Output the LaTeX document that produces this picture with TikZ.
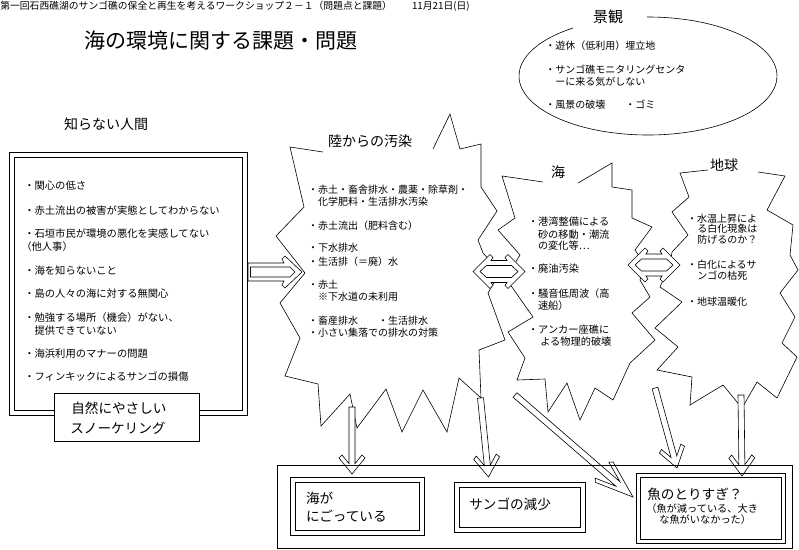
\documentclass[tikz,border=0pt]{standalone}
\usepackage{fontspec}
\setmainfont{Noto Sans CJK JP}
\usetikzlibrary{calc}
\newcommand\chevarrow[5]{%
  \path let \p1=($(#2)-(#1)$) in \pgfextra{%
    \pgfmathsetmacro\CAtmpA{atan2(\y1,\x1)}%
    \pgfmathsetmacro\CAtmpL{veclen(\x1,\y1)}%
    \global\let\CAang\CAtmpA \global\let\CAlen\CAtmpL};%
  \pgfmathsetmacro\CAi{-#3-3+(#4-3-#5)/#4*#3}%
  \draw[fill=white, shift={(#2)}, rotate=\CAang]
    (0,0) -- (-#3,#4) -- ({-#3-3},{#4-3}) -- (\CAi,#5) -- (-\CAlen,#5)
    -- (-\CAlen,-#5) -- (\CAi,-#5) -- ({-#3-3},{-#4+3}) -- (-#3,-#4) -- cycle;
}
\tikzset{
  tx/.style={anchor=base west, inner sep=0pt, font=\fontsize{#1}{#1}\selectfont, yshift={-0.38*#1}},
  tc/.style={anchor=base, inner sep=0pt, font=\fontsize{#1}{#1}\selectfont, yshift={-0.38*#1}},
  box/.style={draw, inner sep=0pt, anchor=north west},
  burst/.style={draw, line join=miter},
  blk/.style={draw, fill=white},
}
\begin{document}
\begin{tikzpicture}[x=1pt,y=1pt,line width=0.6pt]
\fill[white] (0,0) rectangle (799,-549);
\useasboundingbox (0,0) rectangle (799,-549);

% header and title
\node[tx=9.8] (hdr) at (0,-6) {第一回石西礁湖のサンゴ礁の保全と再生を考えるワークショップ２－１（問題点と課題）\hspace{20pt}11月21日(日)};
\node[tc=21] (title) at (221,-41) {海の環境に関する課題・問題};

% landscape ellipse
\coordinate (kc) at (648,-76);
\draw (kc) ++(125.5:129pt and 59pt) arc[start angle=125.5, end angle=450.4, x radius=129pt, y radius=59pt];
\node[tc=15] (kt) at (608,-17) {景観};
\node[tx=10] (k1) at (545,-46) {・遊休（低利用）埋立地};
\node[tx=10] (k2) at (545,-69.5) {・サンゴ礁モニタリングセンタ};
\node[tx=10] (k2b) at (555,-81.5) {ーに来る気がしない};
\node[tx=10] (k3) at (545,-105) {・風景の破壊　　・ゴミ};

% person box
\node[tc=14] (pt) at (106,-124) {知らない人間};
\node[box, minimum width=238pt, minimum height=263pt] (pb) at (9,-152) {};
\draw ([shift={(5,-5)}]pb.north west) rectangle ([shift={(-5,5)}]pb.south east);
\node[tx=10.3] (p1) at (24,-185.5) {・関心の低さ};
\node[tx=10.3] (p2) at (24,-210.5) {・赤土流出の被害が実態としてわからない};
\node[tx=10.3] (p3) at (24,-234) {・石垣市民が環境の悪化を実感してない};
\node[tx=10.3] (p3b) at (21,-247) {（他人事）};
\node[tx=10.3] (p4) at (24,-270.5) {・海を知らないこと};
\node[tx=10.3] (p5) at (24,-294) {・島の人々の海に対する無関心};
\node[tx=10.3] (p6) at (24,-318) {・勉強する場所（機会）がない、};
\node[tx=10.3] (p6b) at (34.3,-330.5) {提供できていない};
\node[tx=10.3] (p7) at (24,-354) {・海浜利用のマナーの問題};
\node[tx=10.3] (p8) at (24,-377) {・フィンキックによるサンゴの損傷};
\node[box, fill=white, minimum width=145pt, minimum height=48pt] (sn) at (54,-393) {};
\node[tx=13.6] (sn1) at (71,-408) {自然にやさしい};
\node[tx=13.6] (sn2) at (70,-428) {スノーケリング};

% bursts
\draw[burst] (433,-149) -- (450,-114) -- (460,-149) -- (481,-144) -- (481,-187) -- (497,-211) -- (478,-240) -- (483,-253) -- (500,-272) -- (488,-293) -- (505,-340) -- (479,-350) -- (481,-398) -- (459,-378) -- (447,-432) -- (423,-390) -- (402,-432) -- (386,-389) -- (357,-428) -- (350,-394) -- (321,-426) -- (318,-384) -- (285,-376) -- (300,-338) -- (280,-303) -- (305,-273) -- (276,-236) -- (304,-207) -- (290,-147) -- (323,-152);
\node[tc=14] (lt) at (370,-141) {陸からの汚染};

\draw[burst] (578,-183) -- (612,-163) -- (612,-187) -- (632,-190) -- (632,-218) -- (652,-227) -- (635,-250) -- (645,-265) -- (640,-280) -- (650,-297) -- (632,-313) -- (655,-340) -- (630,-363) -- (613,-400) -- (595,-388) -- (580,-420) -- (567,-383) -- (548,-412) -- (545,-379) -- (517,-380) -- (525,-358) -- (508,-332) -- (533,-317) -- (507,-280) -- (512,-268) -- (520,-255) -- (498,-230) -- (515,-218) -- (502,-176) -- (543,-182);
\node[tc=14] (st) at (558,-172) {海};

\draw[burst] (758,-172) -- (785,-176) -- (767,-210) -- (793,-225) -- (790,-255) -- (798,-270) -- (780,-293) -- (795,-317) -- (782,-343) -- (797,-357) -- (777,-398) -- (757,-382) -- (742,-408) -- (723,-385) -- (690,-405) -- (692,-377) -- (657,-370) -- (678,-347) -- (655,-328) -- (682,-302) -- (660,-287) -- (670,-265) -- (672,-252) -- (688,-235) -- (672,-212) -- (689,-197) -- (680,-173) -- (708,-170);
\node[tc=14] (et) at (724,-165) {地球};

% burst texts
\node[tx=10] (l1) at (307.7,-190) {・赤土・畜舎排水・農薬・除草剤・};
\node[tx=10] (l1b) at (317.7,-201.5) {化学肥料・生活排水汚染};
\node[tx=10] (l2) at (307.7,-226) {・赤土流出（肥料含む）};
\node[tx=10] (l3) at (307.7,-248) {・下水排水};
\node[tx=10] (l4) at (307.7,-262) {・生活排（＝廃）水};
\node[tx=10] (l5) at (307.7,-285) {・赤土};
\node[tx=10] (l5b) at (317.7,-296.5) {※下水道の未利用};
\node[tx=10] (l6) at (307.7,-321) {・畜産排水　　・生活排水};
\node[tx=10] (l7) at (307.7,-332.5) {・小さい集落での排水の対策};

\node[tx=10.2] (s1) at (527.7,-222) {・港湾整備による};
\node[tx=10.2] (s1b) at (537.7,-235) {砂の移動・潮流};
\node[tx=10.2] (s1c) at (537.7,-246) {の変化等…};
\node[tx=10.2] (s2) at (527.7,-269) {・廃油汚染};
\node[tx=10.2] (s3) at (527.7,-294) {・騒音低周波（高};
\node[tx=10.2] (s3b) at (537.7,-306) {速船）};
\node[tx=10.2] (s4) at (527.7,-330) {・アンカー座礁に};
\node[tx=10.2] (s4b) at (540,-342) {よる物理的破壊};

\node[tx=10] (e1) at (686.7,-218.5) {・水温上昇によ};
\node[tx=10] (e1b) at (697,-229) {る白化現象は};
\node[tx=10] (e1c) at (697,-240) {防げるのか？};
\node[tx=10] (e2) at (686.7,-265) {・白化によるサ};
\node[tx=10] (e2b) at (697,-276) {ンゴの枯死};
\node[tx=10] (e3) at (686.7,-302) {・地球温暖化};

% horizontal block arrows
\coordinate (la0) at (248,-272);
\coordinate (la1) at (302,-272);
\begin{scope}[shift={(la1)}]
\draw[blk] (0,0) -- (-17,16) -- (-20,13) -- (-18,9) -- (-54,9) -- (-54,-9) -- (-18,-9) -- (-20,-13) -- (-17,-16) -- cycle;
\draw (-7,0) -- (-12,5) -- (-51.5,5) -- (-51.5,-5) -- (-12,-5) -- cycle;
\end{scope}
\coordinate (lsm) at (499,-271.5);
\coordinate (sem) at (654,-265);
\foreach \c in {lsm,sem}{
\begin{scope}[shift={(\c)}]
\draw[blk] (-26,0) -- (-9,17) -- (-6,14) -- (-8,11) -- (8,11) -- (6,14) -- (9,17) -- (26,0) -- (9,-17) -- (6,-14) -- (8,-11) -- (-8,-11) -- (-6,-14) -- (-9,-17) -- cycle;
\draw (-19,0) -- (-12.5,6) -- (12.5,6) -- (19,0) -- (12.5,-6) -- (-12.5,-6) -- cycle;
\end{scope}}

% down arrows
\coordinate (a1s) at (352,-407); \coordinate (a1t) at (352,-474);
\coordinate (a2s) at (480.5,-398); \coordinate (a2t) at (488.5,-477);
\coordinate (a3s) at (515,-395); \coordinate (a3t) at (633,-497);
\coordinate (a4s) at (655,-388); \coordinate (a4t) at (677,-468);
\coordinate (a5s) at (741,-395); \coordinate (a5t) at (742,-476);
\chevarrow{a1s}{a1t}{16}{13}{3}
\chevarrow{a2s}{a2t}{19}{13}{3}
\chevarrow{a3s}{a3t}{38}{13.5}{3}
\chevarrow{a4s}{a4t}{19}{13}{3}
\chevarrow{a5s}{a5t}{18}{13}{3}

% bottom boxes
\node[box, minimum width=515pt, minimum height=83pt] (out) at (277,-465) {};
\node[box, minimum width=134pt, minimum height=58pt] (b1) at (290,-477) {};
\draw ([shift={(5,-5)}]b1.north west) rectangle ([shift={(-5,5)}]b1.south east);
\node[box, minimum width=131pt, minimum height=50pt] (b2) at (454,-482) {};
\draw ([shift={(5,-5)}]b2.north west) rectangle ([shift={(-5,5)}]b2.south east);
\node[box, minimum width=149pt, minimum height=70pt] (b3) at (636,-473) {};
\draw ([shift={(4.5,-4.5)}]b3.north west) rectangle ([shift={(-4.5,4.5)}]b3.south east);
\node[tx=13.6] (b1a) at (305.7,-498.5) {海が};
\node[tx=13.6] (b1b) at (305.7,-516) {にごっている};
\node[tx=13.6] (b2a) at (469,-504) {サンゴの減少};
\node[tx=13.6] (b3a) at (647,-494) {魚のとりすぎ？};
\node[tx=10.2] (b3b) at (646,-508.5) {（魚が減っている、大き};
\node[tx=10.2] (b3c) at (659,-520) {な魚がいなかった）};
\end{tikzpicture}
\end{document}
